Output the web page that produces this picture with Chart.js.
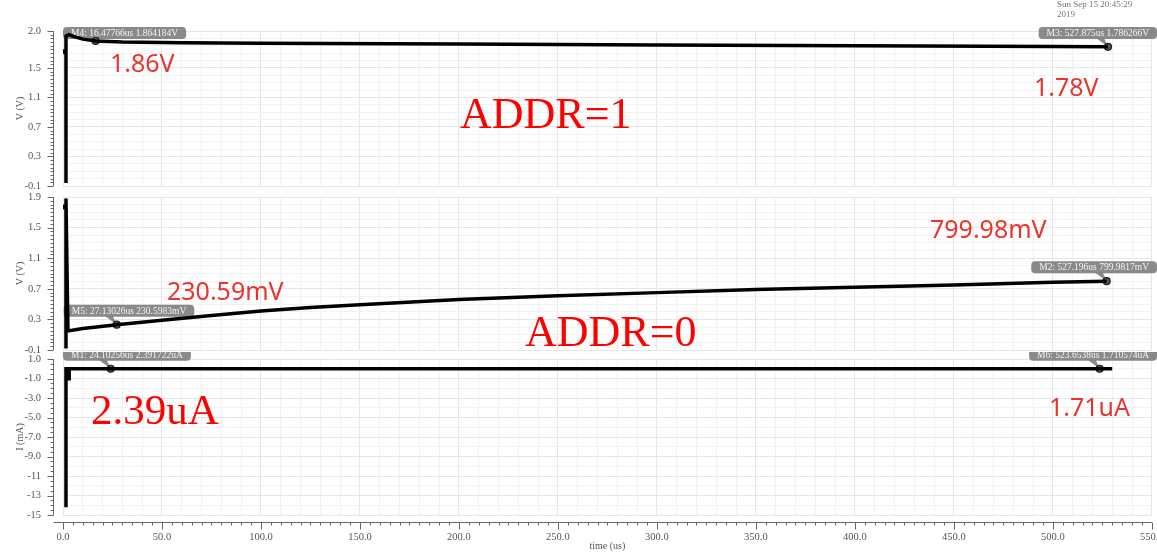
<!DOCTYPE html>
<html lang="en">

<head>
    <meta charset="UTF-8">
    <meta name="viewport" content="width=device-width, initial-scale=1.0">
    <title>ADDR transient</title>
    <style>
        body { margin: 0; background: #fff; }
        #wrap { position: relative; width: 1157px; height: 552px; overflow: hidden; }
        .panel { position: absolute; left: 0; width: 1157px; }
        .note { position: absolute; white-space: nowrap; line-height: 1; }
        .sans { font-family: "Noto Sans", sans-serif; font-size: 25px; color: #e8362f; }
        .serif { font-family: "Liberation Serif", serif; font-size: 44px; color: #ff0000; }
        .stamp { position: absolute; left: 1057px; top: -1px; font: 9px "Liberation Serif", serif; color: #777; line-height: 10px; }
    </style>
    <script src="https://cdn.jsdelivr.net/npm/chart.js"></script>
</head>

<body>
    <div id="wrap">
        <div class="panel" style="top:0px;height:196px"><canvas id="chartTop"></canvas></div>
        <div class="panel" style="top:190px;height:170px"><canvas id="chartMid"></canvas></div>
        <div class="panel" style="top:352px;height:200px"><canvas id="chartCur"></canvas></div>

        <div class="stamp">Sun Sep 15 20:45:29<br>2019</div>

        <div class="note sans" style="left:110px;top:50px">1.86V</div>
        <div class="note serif" style="left:460px;top:92px">ADDR=1</div>
        <div class="note sans" style="left:1034px;top:74px">1.78V</div>
        <div class="note sans" style="left:930px;top:216px">799.98mV</div>
        <div class="note sans" style="left:167px;top:278px">230.59mV</div>
        <div class="note serif" style="left:525px;top:310px">ADDR=0</div>
        <div class="note serif" style="left:91px;top:388px;font-size:43px">2.39uA</div>
        <div class="note sans" style="left:1049px;top:394px">1.71uA</div>
    </div>

<script>
    // x axis (time, us)
    const timeMin = 0;
    const timeMax = 550;

    // ADDR=1 panel, V
    const topTime = [1.5, 1.5, 3, 6, 10, 16.48, 30, 60, 100, 200, 300, 400, 500, 527.875];
    const topVolt = [-0.06, 1.93, 1.95, 1.92, 1.89, 1.864, 1.85, 1.84, 1.835, 1.825, 1.81, 1.80, 1.79, 1.786];
    const topDotTime = [0.3];
    const topDotVolt = [1.72];
    const topTickVals = [-0.1, 0.3, 0.7, 1.1, 1.5, 2.0];
    const topTickText = ['-0.1', '0.3', '0.7', '1.1', '1.5', '2.0'];
    const topMarkTime = [16.47766, 527.875];
    const topMarkVolt = [1.864184, 1.786266];
    const topMarkText = ['M4: 16.47766us 1.864184V', 'M3: 527.875us 1.786266V'];

    // ADDR=0 panel, V
    const midTime = [1.5, 1.5, 2.5, 10, 27.13, 50, 75, 100, 125, 150, 200, 250, 300, 350, 400, 450, 500, 527.196];
    const midVolt = [-0.08, 1.88, 0.15, 0.18, 0.2306, 0.29, 0.35, 0.41, 0.455, 0.49, 0.56, 0.61, 0.65, 0.69, 0.72, 0.75, 0.785, 0.80];
    const midDotTime = [0.3];
    const midDotVolt = [1.77];
    const midTickVals = [-0.1, 0.3, 0.7, 1.1, 1.5, 1.9];
    const midTickText = ['-0.1', '0.3', '0.7', '1.1', '1.5', '1.9'];
    const midMarkTime = [27.13026, 527.196];
    const midMarkVolt = [0.2305983, 0.7999817];
    const midMarkText = ['M5: 27.13026us 230.5983mV', 'M2: 527.196us 799.9817mV'];

    // current panel, mA
    const curTime = [1.5, 1.5, 24.1, 523.65, 530];
    const curMilli = [-14.2, 0, 0.0024, 0.0017, 0.0017];
    const kinkTime = [3, 3];
    const kinkMilli = [0, -1.2];
    const curTickVals = [-15, -13, -11, -9, -7, -5, -3, -1, 1];
    const curTickText = ['-15', '-13', '-11', '-9.0', '-7.0', '-5.0', '-3.0', '-1.0', '1.0'];
    const curMarkTime = [24.10256, 523.6538];
    const curMarkMilli = [0.00239, 0.00171];
    const curMarkText = ['M1: 24.10256us 2.391722uA', 'M6: 523.6538us 1.710574uA'];

    const serif = '"Liberation Serif", serif';

    function pts(xs, ys) {
        return xs.map((x, i) => ({ x: x, y: ys[i] }));
    }

    function isLabelled(v, vals) {
        return vals.findIndex(t => Math.abs(t - v) < 1e-6);
    }

    // gray marker tags, placed from the marker's own data coordinates
    const markerTags = {
        id: 'markerTags',
        beforeDatasetsDraw(chart, args, opts) {
            const ctx = chart.ctx, a = chart.chartArea;
            const xs = chart.scales.x, ys = chart.scales.y;
            ctx.save();
            ctx.font = '9.5px ' + serif;
            opts.items.forEach(it => {
                const mx = xs.getPixelForValue(it.x), my = ys.getPixelForValue(it.y);
                const w = ctx.measureText(it.text).width + 16, h = 12;
                const left = Math.min(Math.max(mx - 53, a.left), chart.width - w);
                const top = Math.max(my - 20, opts.clamp ? a.top - 4 : -h);
                ctx.fillStyle = 'rgba(128,128,128,0.92)';
                ctx.beginPath();
                ctx.roundRect(left, top, w, h, 4);
                ctx.fill();
                ctx.beginPath();
                ctx.moveTo(mx - 12, top + h - 1);
                ctx.lineTo(mx - 4, top + h - 1);
                ctx.lineTo(mx, my);
                ctx.closePath();
                ctx.fill();
                ctx.fillStyle = '#f4f4f4';
                ctx.textBaseline = 'middle';
                ctx.fillText(it.text, left + 8, top + h / 2 + 0.5);
            });
            ctx.restore();
        }
    };

    // axis lines sit a little outside the plot, like the simulator does it
    const scopeAxes = {
        id: 'scopeAxes',
        afterDraw(chart, args, opts) {
            const ctx = chart.ctx, a = chart.chartArea;
            const ys = chart.scales.y, xs = chart.scales.x;
            ctx.save();
            ctx.strokeStyle = '#666';
            ctx.lineWidth = 1;
            ctx.beginPath();
            const ax = a.left - 9.5;
            ctx.moveTo(ax, a.top);
            ctx.lineTo(ax, a.bottom);
            const n = Math.round((ys.max - ys.min) / opts.yMinor);
            for (let k = 0; k <= n; k++) {
                const v = ys.min + k * opts.yMinor;
                const y = Math.round(ys.getPixelForValue(v)) + 0.5;
                const len = isLabelled(v, opts.yVals) >= 0 ? 6 : 3;
                ctx.moveTo(ax, y);
                ctx.lineTo(ax - len, y);
            }
            if (opts.xAxis) {
                const ay = a.bottom + 7.5;
                ctx.moveTo(ax, ay);
                ctx.lineTo(a.right, ay);
                for (let t = timeMin; t <= timeMax; t += 5) {
                    const x = Math.round(xs.getPixelForValue(t)) + 0.5;
                    ctx.moveTo(x, ay);
                    ctx.lineTo(x, ay + (t % 50 === 0 ? 7 : 3));
                }
            }
            ctx.stroke();
            ctx.restore();
        }
    };

    function xScale(showLabels) {
        return {
            type: 'linear',
            min: timeMin,
            max: timeMax,
            afterBuildTicks: s => {
                s.ticks = [];
                for (let t = timeMin; t <= timeMax; t += 10) s.ticks.push({ value: t });
            },
            afterFit: s => {
                s.height = showLabels ? 37 : 0;
                s.paddingLeft = 0;
                s.paddingRight = 0;
            },
            ticks: {
                display: showLabels,
                autoSkip: false,
                maxRotation: 0,
                padding: 16,
                color: '#555',
                font: { family: serif, size: 10.5 },
                callback: v => (v % 50 === 0 ? v.toFixed(1) : '')
            },
            grid: {
                drawTicks: false,
                color: c => (c.tick && c.tick.value % 50 === 0 ? '#e6e6e6' : '#f2f2f2')
            },
            border: { display: false },
            title: {
                display: showLabels,
                text: 'time (us)',
                color: '#555',
                font: { family: serif, size: 10 },
                padding: { top: 0, bottom: 0 }
            }
        };
    }

    function yScale(min, max, step, vals, texts, title) {
        return {
            min: min,
            max: max,
            afterFit: s => {
                s.width = 63;
                s.paddingTop = 0;
                s.paddingBottom = 0;
            },
            afterBuildTicks: s => {
                s.ticks = [];
                const n = Math.round((max - min) / step);
                for (let k = 0; k <= n; k++) s.ticks.push({ value: +(min + k * step).toFixed(4) });
            },
            ticks: {
                autoSkip: false,
                padding: 22,
                color: '#555',
                font: { family: serif, size: 10.5 },
                callback: v => {
                    const i = isLabelled(v, vals);
                    return i >= 0 ? texts[i] : '';
                }
            },
            grid: {
                drawTicks: false,
                color: c => (c.tick && isLabelled(c.tick.value, vals) >= 0 ? '#e6e6e6' : '#f2f2f2')
            },
            border: { display: false },
            title: {
                display: true,
                text: title,
                color: '#555',
                font: { family: serif, size: 10 },
                padding: { top: 14, bottom: 0 }
            }
        };
    }

    function trace(data, width) {
        return {
            data: data,
            borderColor: '#000',
            borderWidth: width,
            pointRadius: 0,
            tension: 0,
            fill: false
        };
    }

    function marks(data) {
        return {
            data: data,
            showLine: false,
            pointRadius: 3.5,
            pointBackgroundColor: '#555',
            pointBorderColor: '#1a1a1a',
            pointBorderWidth: 1.2
        };
    }

    function makeChart(id, cfg) {
        return new Chart(document.getElementById(id), {
            type: 'line',
            data: { datasets: cfg.datasets },
            options: {
                responsive: true,
                maintainAspectRatio: false,
                animation: false,
                layout: { padding: cfg.padding },
                plugins: {
                    legend: { display: false },
                    tooltip: { enabled: false },
                    markerTags: { items: cfg.tags, clamp: cfg.clampTags },
                    scopeAxes: { yMinor: cfg.yMinor, yVals: cfg.yVals, xAxis: cfg.xAxis }
                },
                scales: {
                    x: xScale(cfg.xAxis),
                    y: yScale(cfg.yMin, cfg.yMax, cfg.gridStep, cfg.yVals, cfg.yTexts, cfg.yTitle)
                }
            },
            plugins: [markerTags, scopeAxes]
        });
    }

    function tagList(ts, vs, texts) {
        return ts.map((t, i) => ({ x: t, y: vs[i], text: texts[i] }));
    }

    makeChart('chartTop', {
        datasets: [
            trace(pts(topTime, topVolt), 3.5),
            { ...trace(pts(topDotTime, topDotVolt), 1), pointRadius: 2, pointBackgroundColor: '#000' },
            marks(pts(topMarkTime, topMarkVolt))
        ],
        tags: tagList(topMarkTime, topMarkVolt, topMarkText),
        clampTags: true,
        padding: { top: 31, bottom: 10, right: 2, left: 0 },
        xAxis: false,
        yMin: -0.1, yMax: 2.0, gridStep: 0.1, yMinor: 0.05,
        yVals: topTickVals, yTexts: topTickText, yTitle: 'V (V)'
    });

    makeChart('chartMid', {
        datasets: [
            trace(pts(midTime, midVolt), 3.5),
            { ...trace(pts(midDotTime, midDotVolt), 1), pointRadius: 2, pointBackgroundColor: '#000' },
            marks(pts(midMarkTime, midMarkVolt))
        ],
        tags: tagList(midMarkTime, midMarkVolt, midMarkText),
        clampTags: true,
        padding: { top: 7, bottom: 10, right: 2, left: 0 },
        xAxis: false,
        yMin: -0.1, yMax: 1.9, gridStep: 0.1, yMinor: 0.05,
        yVals: midTickVals, yTexts: midTickText, yTitle: 'V (V)'
    });

    // the current tags sit partly under the panel above, as in the screenshot
    makeChart('chartCur', {
        datasets: [
            trace(pts(curTime, curMilli), 3.5),
            trace(pts(kinkTime, kinkMilli), 4),
            marks(pts(curMarkTime, curMarkMilli))
        ],
        tags: tagList(curMarkTime, curMarkMilli, curMarkText),
        clampTags: false,
        padding: { top: 7, bottom: 0, right: 2, left: 0 },
        xAxis: true,
        yMin: -15, yMax: 1, gridStep: 1, yMinor: 0.5,
        yVals: curTickVals, yTexts: curTickText, yTitle: 'I (mA)'
    });
</script>
</body>

</html>
